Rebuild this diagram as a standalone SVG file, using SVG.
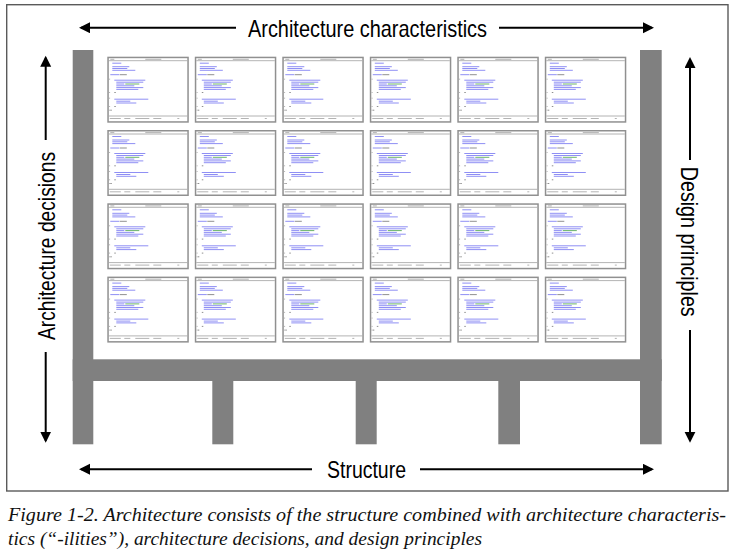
<svg xmlns="http://www.w3.org/2000/svg" xmlns:xlink="http://www.w3.org/1999/xlink" width="750" height="558" viewBox="0 0 750 558">
  <style>
    .frame { fill: #fff; stroke: #5a5a5a; stroke-width: 1.4; }
    .steel { fill: #808080; }
    .lbl { font-family: "Liberation Sans", Arial, sans-serif; font-size: 24px; fill: #000; }
    .cap { font-family: "Liberation Serif", "Times New Roman", serif; font-style: italic; font-size: 19.5px; fill: #111; }
    .conn { stroke: #000; stroke-width: 2; fill: none; marker-end: url(#head); }
    .win { fill: #fff; stroke: #909090; stroke-width: 1.5; }
    .code { stroke: #6a6af0; stroke-width: 1; fill: none; opacity: 0.75; }
    .kw { stroke: #555; stroke-width: 1; fill: none; opacity: 0.65; }
    .str { stroke: #3a9a3a; stroke-width: 1; fill: none; opacity: 0.75; }
    .ui { stroke: #a0a0a0; stroke-width: 0.8; fill: none; }
  </style>
  <defs>
    <marker id="head" markerUnits="userSpaceOnUse" markerWidth="12" markerHeight="12" refX="9" refY="5.5" orient="auto">
      <path d="M0,0 L11,5.5 L0,11 Z" fill="#000"/>
    </marker>
    <!-- miniature code editor window used for every module -->
    <g id="codeWindow">
      <rect class="win" x="0.75" y="0.75" width="80" height="64.5"/>
      <path class="ui" d="M3 2.6h4 M38 2.6h16 M1.5 4h78.5 M1.5 59.3h78.5"/>
      <path class="code" d="M5 6.5h9 M5 10h17 M5 11.8h15 M5 13.6h23 M3 18h9 M7 23.5h31 M9 25.5h27 M9 27.3h8 M9 29.1h18 M9 30.9h27 M9 32.7h22 M7 42.5h34 M9 44.5h14 M9 46.3h20"/>
      <path class="kw" d="M12.5 18h7 M7 35.8h1.5 M7 49.8h1.5 M3 53.5h1.5"/>
      <path class="str" d="M18 27.3h14"/>
      <path class="ui" d="M1.8 22.5h1 M1.8 35.8h1 M1.8 41.5h1 M1.8 49.8h1 M1.8 53.5h1 M2.5 61.8h11 M17 61.8h6 M28 61.8h14 M46 61.8h8 M70 61.8h2"/>
    </g>
  </defs>

  <!-- outer frame -->
  <rect id="frame" class="frame" x="6.7" y="4.7" width="721.3" height="486.3"/>

  <!-- structural skeleton: pillars, beam and legs -->
  <g id="structure">
    <rect class="steel" x="72.7" y="50" width="20.6" height="394.3"/>
    <rect class="steel" x="640" y="50" width="21.7" height="394.3"/>
    <rect class="steel" x="72.7" y="359.3" width="589" height="21.7"/>
    <rect class="steel" x="212.3" y="381" width="21" height="63.3"/>
    <rect class="steel" x="355.7" y="381" width="21" height="63.3"/>
    <rect class="steel" x="498.3" y="381" width="21.7" height="63.3"/>
  </g>

  <!-- module grid: 4 rows x 6 columns -->
  <g id="modules">
    <g id="m-r1c1"><use xlink:href="#codeWindow" x="107.3" y="56.7"/></g>
    <g id="m-r1c2"><use xlink:href="#codeWindow" x="194.8" y="56.7"/></g>
    <g id="m-r1c3"><use xlink:href="#codeWindow" x="282.3" y="56.7"/></g>
    <g id="m-r1c4"><use xlink:href="#codeWindow" x="369.8" y="56.7"/></g>
    <g id="m-r1c5"><use xlink:href="#codeWindow" x="457.3" y="56.7"/></g>
    <g id="m-r1c6"><use xlink:href="#codeWindow" x="544.8" y="56.7"/></g>
    <g id="m-r2c1"><use xlink:href="#codeWindow" x="107.3" y="130"/></g>
    <g id="m-r2c2"><use xlink:href="#codeWindow" x="194.8" y="130"/></g>
    <g id="m-r2c3"><use xlink:href="#codeWindow" x="282.3" y="130"/></g>
    <g id="m-r2c4"><use xlink:href="#codeWindow" x="369.8" y="130"/></g>
    <g id="m-r2c5"><use xlink:href="#codeWindow" x="457.3" y="130"/></g>
    <g id="m-r2c6"><use xlink:href="#codeWindow" x="544.8" y="130"/></g>
    <g id="m-r3c1"><use xlink:href="#codeWindow" x="107.3" y="203.3"/></g>
    <g id="m-r3c2"><use xlink:href="#codeWindow" x="194.8" y="203.3"/></g>
    <g id="m-r3c3"><use xlink:href="#codeWindow" x="282.3" y="203.3"/></g>
    <g id="m-r3c4"><use xlink:href="#codeWindow" x="369.8" y="203.3"/></g>
    <g id="m-r3c5"><use xlink:href="#codeWindow" x="457.3" y="203.3"/></g>
    <g id="m-r3c6"><use xlink:href="#codeWindow" x="544.8" y="203.3"/></g>
    <g id="m-r4c1"><use xlink:href="#codeWindow" x="107.3" y="276.6"/></g>
    <g id="m-r4c2"><use xlink:href="#codeWindow" x="194.8" y="276.6"/></g>
    <g id="m-r4c3"><use xlink:href="#codeWindow" x="282.3" y="276.6"/></g>
    <g id="m-r4c4"><use xlink:href="#codeWindow" x="369.8" y="276.6"/></g>
    <g id="m-r4c5"><use xlink:href="#codeWindow" x="457.3" y="276.6"/></g>
    <g id="m-r4c6"><use xlink:href="#codeWindow" x="544.8" y="276.6"/></g>
  </g>

  <!-- dimension arrows -->
  <g id="connectors">
    <line class="conn" x1="236" y1="27.7" x2="81" y2="27.7"/>
    <line class="conn" x1="499" y1="27.7" x2="652" y2="27.7"/>
    <line class="conn" x1="312" y1="469.3" x2="81" y2="469.3"/>
    <line class="conn" x1="420" y1="469.3" x2="652" y2="469.3"/>
    <line class="conn" x1="45.7" y1="140" x2="45.7" y2="57.7"/>
    <line class="conn" x1="45.7" y1="352" x2="45.7" y2="440.7"/>
    <line class="conn" x1="690" y1="160" x2="690" y2="59"/>
    <line class="conn" x1="690" y1="330" x2="690" y2="440.7"/>
  </g>

  <!-- axis labels -->
  <g id="labels">
    <text class="lbl" x="248" y="36.5" textLength="239" lengthAdjust="spacingAndGlyphs">Architecture characteristics</text>
    <text class="lbl" x="327" y="478" textLength="79" lengthAdjust="spacingAndGlyphs">Structure</text>
    <text class="lbl" transform="translate(54.5,340) rotate(-90)" x="0" y="0" textLength="188" lengthAdjust="spacingAndGlyphs">Architecture decisions</text>
    <text class="lbl" transform="translate(681,166.7) rotate(90)" x="0" y="0" textLength="150" lengthAdjust="spacingAndGlyphs">Design principles</text>
  </g>

  <!-- caption -->
  <g id="caption">
    <text class="cap" x="8" y="521" textLength="718" lengthAdjust="spacingAndGlyphs">Figure 1-2. Architecture consists of the structure combined with architecture characteris-</text>
    <text class="cap" x="8" y="545" textLength="474" lengthAdjust="spacingAndGlyphs">tics (“-ilities”), architecture decisions, and design principles</text>
  </g>
</svg>
